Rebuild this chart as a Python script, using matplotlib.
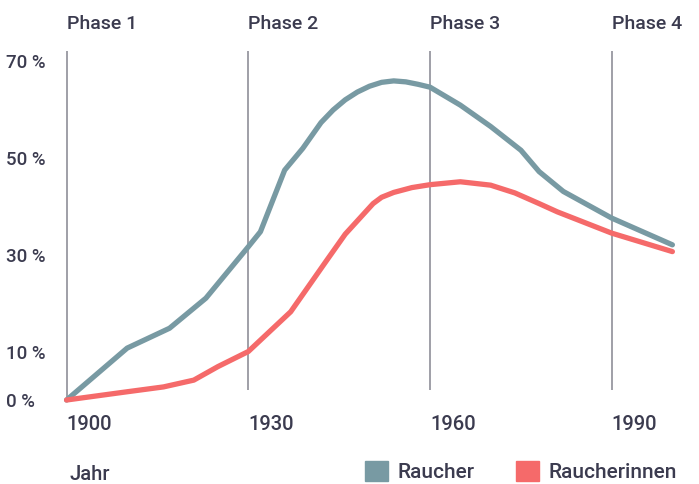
import matplotlib
matplotlib.use('Agg')
import matplotlib.pyplot as plt
from matplotlib.patches import Patch

# smoking rates (percent) over the 20th century
years_m = [1900, 1910, 1917, 1923, 1930, 1932, 1936, 1939, 1942, 1944, 1946,
           1948, 1950, 1952, 1954, 1956, 1958, 1960, 1965, 1970, 1975, 1978,
           1982, 1990, 2000]
raucher = [0, 10.7, 14.8, 21, 31.6, 34.7, 47.4, 51.9, 57.2, 59.8, 61.9,
           63.5, 64.7, 65.5, 65.8, 65.6, 65.1, 64.5, 60.8, 56.4, 51.5, 47.1,
           43, 37.5, 32]

years_f = [1900, 1910, 1916, 1921, 1925, 1930, 1937, 1943, 1946, 1950.6,
           1952, 1954, 1957, 1960, 1965, 1970, 1974, 1978, 1981, 1990, 2000]
raucherinnen = [0, 1.7, 2.7, 4.1, 6.9, 10, 18.2, 28.9, 34.2, 40.5,
                41.8, 42.8, 43.8, 44.4, 45, 44.3, 42.7, 40.5, 38.8, 34.4, 30.6]

phase_years = [1900, 1930, 1960, 1990]
phase_labels = ['Phase 1', 'Phase 2', 'Phase 3', 'Phase 4']
phase_bottom = [0, 2, 2, 2]

ytick_vals = [0, 10, 30, 50, 70]
ytick_labels = ['0 %', '10 %', '30 %', '50 %', '70 %']
xtick_vals = [1900, 1930, 1960, 1990]

blue = '#789aa3'
red = '#f56a6a'
text_col = '#3b3b4f'
plt.rcParams['font.family'] = ['Roboto', 'DejaVu Sans']

fig = plt.figure(figsize=(6.99, 4.84), dpi=100)
ax = fig.add_axes([0.08656, 0.1535, 0.8927, 0.7415])
ax.set_xlim(1899, 2002)
ax.set_ylim(-2, 72)

ax.vlines(phase_years, phase_bottom, 72, color='#85858f', lw=1.1, zorder=1)
for yr, lab in zip(phase_years, phase_labels):
    ax.text(yr, 1.06, lab, transform=ax.get_xaxis_transform(), ha='left',
            va='baseline', fontsize=14, fontweight='medium', color=text_col)

ax.plot(years_m, raucher, color=blue, lw=3.8, solid_capstyle='round',
        solid_joinstyle='round', zorder=3)
ax.plot(years_f, raucherinnen, color=red, lw=3.8, solid_capstyle='round',
        solid_joinstyle='round', zorder=4)

for s in ax.spines.values():
    s.set_visible(False)

ax.set_yticks(ytick_vals)
ax.set_yticklabels(ytick_labels)
ax.set_xticks(xtick_vals)
ax.set_xticklabels([str(y) for y in xtick_vals])
ax.tick_params(axis='y', length=0, pad=39, labelsize=13.5, labelcolor=text_col)
ax.tick_params(axis='x', length=0, pad=4, labelsize=14.5, labelcolor=text_col)
for t in ax.get_yticklabels():
    t.set_horizontalalignment('left')
    t.set_fontweight('medium')
for t in ax.get_xticklabels():
    t.set_horizontalalignment('left')
    t.set_fontweight('medium')

fig.text(69 / 699, 1 - 475 / 484, 'Jahr', ha='left', va='center',
         fontsize=14.5, fontweight='medium', color=text_col)

handles = [Patch(color=blue, label='Raucher'), Patch(color=red, label='Raucherinnen')]
leg = fig.legend(handles=handles, loc='lower left', ncol=2,
                 bbox_to_anchor=(365 / 699, 2 / 484), frameon=False,
                 fontsize=15, handlelength=1.1, handleheight=1.1,
                 handletextpad=0.45, columnspacing=2.0, borderpad=0,
                 borderaxespad=0)
for t in leg.get_texts():
    t.set_color(text_col)
    t.set_fontweight('medium')

fig.savefig('out.png', dpi=100)
